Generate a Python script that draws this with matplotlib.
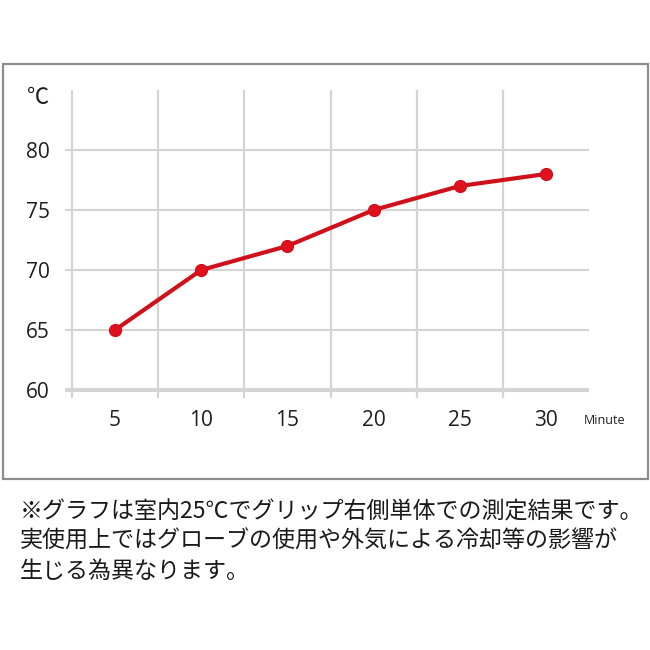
import matplotlib

matplotlib.use("Agg")
import matplotlib.pyplot as plt  # noqa: E402
from matplotlib.patches import Rectangle  # noqa: E402

minutes = ["5", "10", "15", "20", "25", "30"]
temps = [65, 70, 72, 75, 77, 78]
y_ticks = [60, 65, 70, 75, 80]
note_lines = [
    "※グラフは室内25℃でグリップ右側単体での測定結果です。",
    "実使用上ではグローブの使用や外気による冷却等の影響が",
    "生じる為異なります。",
]

W = H = 650
RED = "#cf111c"
GRID = "#d4d4d4"
FG = "#1e1e1e"
NUM_FONT = ["Open Sans", "DejaVu Sans"]
JP_FONT = ["Noto Sans CJK JP", "DejaVu Sans"]

fig = plt.figure(figsize=(W / 100, H / 100), dpi=100)
fig.patch.set_facecolor("white")

# pixel layout of the plot area (x: 86.2 px per category, y: 12 px per degree)
x0, x1 = -0.58, 5.5
y0, y1 = 59.3, 85.2
left_px = 115 + x0 * 86.2
right_px = 115 + x1 * 86.2
bottom_px = 390 + (60 - y0) * 12
top_px = 390 - (y1 - 60) * 12
ax = fig.add_axes([left_px / W, 1 - bottom_px / H,
                   (right_px - left_px) / W, (bottom_px - top_px) / H])
ax.set_xlim(x0, x1)
ax.set_ylim(y0, y1)
for s in ax.spines.values():
    s.set_visible(False)

xs = list(range(len(minutes)))
ax.vlines([x - 0.5 for x in xs], 59.35, 85.0, color=GRID, lw=1.6, zorder=1)
for y in y_ticks:
    ax.axhline(y, color=GRID, lw=3.0 if y == 60 else 1.5, zorder=1)

ax.plot(xs, temps, color=RED, lw=3.0, marker="o", ms=8.5,
        markerfacecolor="#e0101c", markeredgecolor=RED, zorder=3,
        solid_capstyle="round")

ax.set_xticks(xs)
ax.set_xticklabels(minutes, family=NUM_FONT, fontsize=15, color=FG)
ax.set_yticks(y_ticks)
ax.set_yticklabels([str(v) for v in y_ticks], family=NUM_FONT, fontsize=15, color=FG)
ax.tick_params(length=0)
ax.tick_params(axis="x", pad=8)
ax.tick_params(axis="y", pad=11)

fig.text(38 / W, 1 - 98 / H, "℃", family=JP_FONT, fontsize=16, color=FG,
         ha="center", va="center")
fig.text(605 / W, 1 - 421 / H, "Minute", family=NUM_FONT, fontsize=9, color=FG,
         ha="center", va="center")

# outer frame around the chart
fig.add_artist(Rectangle((3 / W, 1 - 479 / H), 645 / W, 415 / H,
                         transform=fig.transFigure, fill=False,
                         edgecolor="#8c8c8c", lw=1.6))

for i, line in enumerate(note_lines):
    fig.text(20 / W, 1 - (512 + i * 29.5) / H, line, family=JP_FONT,
             fontsize=16.6, color="#1a1a1a", ha="left", va="center")

fig.savefig("out.png", dpi=100, facecolor="white")
plt.close(fig)
